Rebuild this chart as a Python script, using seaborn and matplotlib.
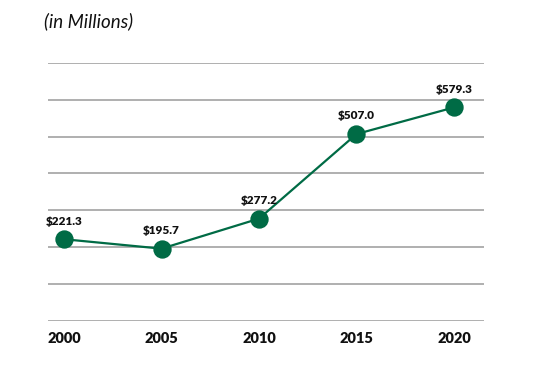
import matplotlib
matplotlib.use("Agg")
import matplotlib.pyplot as plt
import seaborn as sns
import pandas as pd

years = ["2000", "2005", "2010", "2015", "2020"]
values = [221.3, 195.7, 277.2, 507.0, 579.3]
labels = ["$221.3", "$195.7", "$277.2", "$507.0", "$579.3"]
grid_values = list(range(0, 701, 100))

green = "#006b45"

sns.set_style("white")
plt.rcParams["font.family"] = ["Lato", "DejaVu Sans"]

df = pd.DataFrame({"year": years, "value": values})

fig = plt.figure(figsize=(5.39, 3.69), dpi=100)
ax = fig.add_axes([0.0891, 0.1309, 0.8089, 0.6984])

sns.pointplot(data=df, x="year", y="value", color=green, errorbar=None,
              markersize=12, linewidth=1.6, ax=ax)

for i, (v, lab) in enumerate(zip(values, labels)):
    ax.annotate(lab, (i, v), xytext=(0, 13), textcoords="offset points",
                ha="center", va="center", fontsize=8.5, fontweight="heavy", color="#111111")

ax.set_ylim(0, 700)
ax.set_xlim(-0.164, 4.308)
ax.set_yticks(grid_values)
ax.yaxis.grid(True, color="#9a9a9a", linewidth=1.1)
ax.set_axisbelow(True)
ax.tick_params(axis="y", left=False, labelleft=False)
ax.tick_params(axis="x", length=0, pad=8, labelsize=10.5)
for t in ax.get_xticklabels():
    t.set_fontweight("heavy")
    t.set_color("#111111")
for s in ax.spines.values():
    s.set_visible(False)
ax.set_xlabel("")
ax.set_ylabel("")

fig.text(44 / 539, 1 - 21 / 369, "(in Millions)", fontsize=13.5, fontstyle="italic",
         ha="left", va="center", color="#111111")

fig.savefig("out.png", dpi=100)
